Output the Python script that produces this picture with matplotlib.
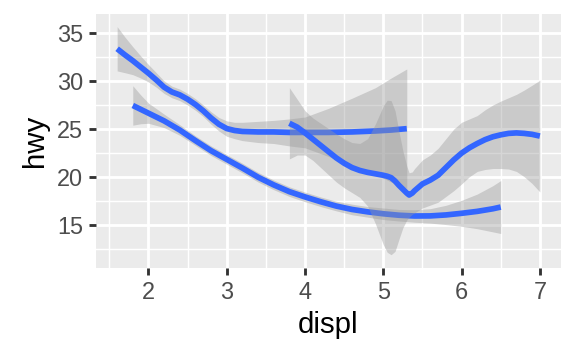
#!/usr/bin/env python3

import matplotlib
matplotlib.use("Agg")
import matplotlib.pyplot as plt

# loess fits of hwy ~ displ, one per drive type
x_4 = [1.8, 1.9, 2.0, 2.2, 2.4, 2.6, 2.8, 3.0, 3.2, 3.4, 3.6, 3.8, 4.0, 4.2,
       4.4, 4.6, 4.8, 5.0, 5.2, 5.4, 5.6, 5.8, 6.0, 6.2, 6.4, 6.5]
fit_4 = [27.45, 27.05, 26.65, 25.85, 24.9, 23.8, 22.75, 21.85, 20.95, 20.0,
         19.2, 18.5, 17.95, 17.45, 17.0, 16.65, 16.4, 16.2, 16.05, 15.97,
         15.98, 16.08, 16.25, 16.45, 16.72, 16.9]
lo_4 = [25.40, 25.55, 25.60, 25.15, 24.35, 23.30, 22.25, 21.35, 20.45, 19.50,
        18.70, 18.00, 17.45, 16.95, 16.50, 16.10, 15.85, 15.60, 15.45, 15.32,
        15.23, 15.08, 14.90, 14.65, 14.32, 14.15]
hi_4 = [29.50, 28.55, 27.70, 26.55, 25.45, 24.30, 23.25, 22.35, 21.45, 20.50,
        19.70, 19.00, 18.45, 17.95, 17.50, 17.20, 16.95, 16.80, 16.65, 16.62,
        16.73, 17.08, 17.60, 18.25, 19.12, 19.65]

x_f = [1.6, 1.7, 1.8, 1.9, 2.0, 2.1, 2.2, 2.3, 2.4, 2.5, 2.6, 2.7, 2.8, 2.9,
       3.0, 3.1, 3.2, 3.4, 3.6, 3.8, 4.0, 4.3, 4.6, 4.9, 5.1, 5.3]
fit_f = [33.34, 32.7, 32.1, 31.45, 30.8, 30.1, 29.35, 28.85, 28.55, 28.1,
         27.55, 26.9, 26.15, 25.5, 25.05, 24.85, 24.75, 24.7, 24.7, 24.65,
         24.65, 24.65, 24.7, 24.8, 24.9, 25.04]
lo_f = [31.04, 30.85, 30.65, 30.30, 29.90, 29.35, 28.70, 28.25, 27.95, 27.50,
        26.95, 26.30, 25.50, 24.80, 24.25, 24.00, 23.80, 23.60, 23.50, 23.25,
        23.05, 22.15, 21.20, 20.30, 19.50, 18.84]
hi_f = [35.64, 34.55, 33.55, 32.60, 31.70, 30.85, 30.00, 29.45, 29.15, 28.70,
        28.15, 27.50, 26.80, 26.20, 25.85, 25.70, 25.70, 25.80, 25.90, 26.05,
        26.25, 27.15, 28.20, 29.30, 30.30, 31.24]

x_r = [3.8, 3.9, 4.0, 4.1, 4.2, 4.3, 4.4, 4.5, 4.6, 4.7, 4.8, 4.9, 5.0, 5.05,
       5.1, 5.15, 5.2, 5.25, 5.3, 5.33, 5.37, 5.4, 5.5, 5.6, 5.7, 5.8, 5.9,
       6.0, 6.1, 6.2, 6.3, 6.4, 6.5, 6.6, 6.7, 6.8, 6.9, 7.0]
fit_r = [25.6, 25.2, 24.6, 23.95, 23.3, 22.65, 22.0, 21.45, 21.0, 20.7, 20.5,
         20.35, 20.2, 20.1, 19.95, 19.6, 19.15, 18.75, 18.35, 18.15, 18.35,
         18.6, 19.3, 19.7, 20.2, 21.0, 21.8, 22.5, 23.05, 23.5, 23.9, 24.2,
         24.4, 24.55, 24.6, 24.55, 24.45, 24.27]
lo_r = [21.9, 22.3, 22.3, 21.75, 21.0, 20.25, 19.5, 18.9, 18.4, 17.9, 17.0,
        15.15, 13.0, 12.2, 11.95, 12.3, 13.55, 14.75, 15.55, 15.85, 16.15,
        16.3, 16.8, 17.1, 17.4, 18.0, 18.6, 19.3, 20.05, 20.6, 20.8, 20.9,
        20.9, 20.85, 20.6, 20.05, 19.35, 18.47]
hi_r = [29.3, 28.1, 26.9, 26.15, 25.6, 25.05, 24.5, 24.0, 23.6, 23.5, 24.0,
        25.55, 27.4, 28.0, 27.95, 26.9, 24.75, 22.75, 21.15, 20.45, 20.55,
        20.9, 21.8, 22.3, 23.0, 24.0, 25.0, 25.7, 26.05, 26.4, 27.0, 27.5,
        27.9, 28.25, 28.6, 29.05, 29.55, 30.07]

x_ticks = [2, 3, 4, 5, 6, 7]
x_minor = [1.5, 2.5, 3.5, 4.5, 5.5, 6.5]
y_ticks = [15, 20, 25, 30, 35]
y_minor = [12.5, 17.5, 22.5, 27.5, 32.5]


def main():
    plt.rcParams["font.family"] = ["Liberation Sans", "DejaVu Sans"]

    dpi = 192
    fig = plt.figure(figsize=(576 / dpi, 355 / dpi), dpi=dpi)
    fig.patch.set_facecolor("white")

    left, right = 96 / 576, 561 / 576
    top, bottom = 1 - 14 / 355, 1 - 267.7 / 355
    ax = fig.add_axes([left, bottom, right - left, top - bottom])
    ax.set_facecolor("#EBEBEB")
    for s in ax.spines.values():
        s.set_visible(False)

    # ggplot draws ribbon then line, group by group (4, f, r)
    groups = [
        (x_4, fit_4, lo_4, hi_4),
        (x_f, fit_f, lo_f, hi_f),
        (x_r, fit_r, lo_r, hi_r),
    ]
    z = 1
    for xs, fit, lo, hi in groups:
        ax.fill_between(xs, lo, hi, color="#999999", alpha=0.4,
                        linewidth=0, zorder=z)
        ax.plot(xs, fit, color="#3366FF", lw=2.13, zorder=z + 1,
                solid_capstyle="butt", solid_joinstyle="round")
        z += 2

    ax.set_xlim(1.33, 7.27)
    ax.set_ylim(10.6, 36.95)

    ax.set_xticks(x_ticks)
    ax.set_xticks(x_minor, minor=True)
    ax.set_yticks(y_ticks)
    ax.set_yticks(y_minor, minor=True)
    ax.set_xticklabels([str(v) for v in x_ticks])
    ax.set_yticklabels([str(v) for v in y_ticks])

    ax.set_axisbelow(True)
    ax.grid(True, which="major", color="white", lw=1.07)
    ax.grid(True, which="minor", color="white", lw=0.53)

    ax.tick_params(which="major", length=2.75, width=1.07, color="#333333",
                   labelcolor="#4D4D4D", labelsize=8.8, pad=2.2)
    ax.tick_params(which="minor", length=0)

    ax.set_xlabel("displ", fontsize=11, color="black", labelpad=2.75)
    ax.set_ylabel("hwy", fontsize=11, color="black", labelpad=2.75)

    fig.savefig("out.png", dpi=dpi)
    plt.close(fig)


if __name__ == "__main__":
    main()
